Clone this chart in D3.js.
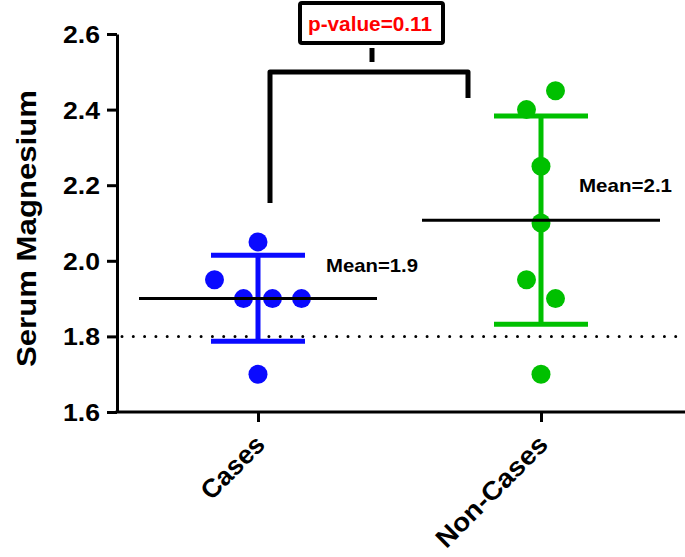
<!DOCTYPE html>
<html><head><meta charset="utf-8">
<script src="https://cdn.jsdelivr.net/npm/d3@7"></script>
<style>body{margin:0;background:#fff}svg{display:block}text{font-family:"Liberation Sans",Arial,sans-serif;font-weight:bold}</style>
</head><body><svg id="c" width="685" height="557"></svg>
<script>
const categories = ["Cases", "Non-Cases"];
const colors = ["#0a0aff", "#00c000"];
const casesValues = [2.05, 1.95, 1.9, 1.9, 1.9, 1.7];
const casesJitter = [0, -1.5, -0.5, 0.5, 1.5, 0];
const nonCasesValues = [2.45, 2.4, 2.25, 2.1, 1.95, 1.9, 1.7];
const nonCasesJitter = [0.5, -0.5, 0, 0, -0.5, 0.5, 0];
const means = [1.9, 2.107];
const errLow = [1.787, 1.832];
const errHigh = [2.015, 2.383];
const meanLabels = ["Mean=1.9", "Mean=2.1"];
const yTicks = [1.6, 1.8, 2.0, 2.2, 2.4, 2.6];
const refLine = 1.8;
const pLabel = "p-value=0.11";

const svg = d3.select("#c");
const y = d3.scaleLinear().domain([1.6, 2.6]).range([412, 34]);
const x = d3.scalePoint().domain(categories).range([258, 541]);
const jit = 29; // px per jitter unit

// y axis
const yAxis = svg.append("g").attr("transform", "translate(117,0)")
  .call(d3.axisLeft(y).tickValues(yTicks).tickFormat(d3.format(".1f")).tickSize(10).tickSizeOuter(0));
yAxis.select(".domain").attr("stroke", "#000").attr("stroke-width", 3);
yAxis.selectAll(".tick line").attr("stroke-width", 3);
yAxis.selectAll(".tick text").attr("font-size", 24).attr("x", -17).attr("dy", "0.35em")
  .attr("font-family", "Liberation Sans, Arial").attr("font-weight", "bold").attr("fill", "#000")
  .attr("textLength", 37).attr("lengthAdjust", "spacingAndGlyphs");

// x axis
const xAxis = svg.append("g").attr("transform", "translate(0,412)")
  .call(d3.axisBottom(x).tickSize(10).tickSizeOuter(0));
xAxis.select(".domain").attr("d", "M115.5,0H685").attr("stroke-width", 3);
xAxis.selectAll(".tick line").attr("stroke-width", 3);
xAxis.selectAll(".tick text").attr("font-size", 26).attr("font-family", "Liberation Sans, Arial").attr("font-weight", "bold").attr("fill", "#000")
  .attr("text-anchor", "end").attr("dy", 0).attr("y", 0)
  .attr("textLength", d => d === "Cases" ? 78 : 146).attr("lengthAdjust", "spacingAndGlyphs")
  .attr("transform", "translate(8,34) rotate(-45)");

// y label
svg.append("text").attr("transform", "translate(36,228.5) rotate(-90)").attr("text-anchor", "middle")
  .attr("font-size", 28).attr("textLength", 277).attr("lengthAdjust", "spacingAndGlyphs").text("Serum Magnesium");

// reference dotted line
svg.append("line").attr("x1", 122).attr("x2", 685).attr("y1", y(refLine)).attr("y2", y(refLine))
  .attr("stroke", "#000").attr("stroke-width", 3).attr("stroke-dasharray", "0 11.3").attr("stroke-linecap", "round");

const groups = [
  {vals: casesValues, jit: casesJitter},
  {vals: nonCasesValues, jit: nonCasesJitter}
];

groups.forEach((g, i) => {
  const cx = x(categories[i]);
  const c = colors[i];
  // error bars
  svg.append("line").attr("x1", cx).attr("x2", cx).attr("y1", y(errHigh[i])).attr("y2", y(errLow[i]))
    .attr("stroke", c).attr("stroke-width", 5);
  [errHigh[i], errLow[i]].forEach(v => {
    svg.append("line").attr("x1", cx - 47).attr("x2", cx + 47).attr("y1", y(v)).attr("y2", y(v))
      .attr("stroke", c).attr("stroke-width", 5);
  });
  // points
  svg.selectAll(null).data(g.vals).enter().append("circle")
    .attr("cx", (d, k) => cx + g.jit[k] * jit).attr("cy", d => y(d)).attr("r", 9.5).attr("fill", c);
  // mean line
  svg.append("line").attr("x1", cx - 119).attr("x2", cx + 119).attr("y1", y(means[i])).attr("y2", y(means[i]))
    .attr("stroke", "#000").attr("stroke-width", 3);
});

// mean labels
svg.append("text").attr("x", 326).attr("y", 272).attr("font-size", 19)
  .attr("textLength", 92).attr("lengthAdjust", "spacingAndGlyphs").text(meanLabels[0]);
svg.append("text").attr("x", 579).attr("y", 192).attr("font-size", 19)
  .attr("textLength", 93).attr("lengthAdjust", "spacingAndGlyphs").text(meanLabels[1]);

// bracket
svg.append("path").attr("d", "M270,203V72H468V98").attr("fill", "none").attr("stroke", "#000")
  .attr("stroke-width", 5).attr("stroke-linejoin", "round");
svg.append("line").attr("x1", 372).attr("x2", 372).attr("y1", 48).attr("y2", 62).attr("stroke", "#000").attr("stroke-width", 5);
svg.append("rect").attr("x", 300).attr("y", 3).attr("width", 143).attr("height", 40).attr("rx", 2)
  .attr("fill", "#fff").attr("stroke", "#000").attr("stroke-width", 4);
svg.append("text").attr("x", 308).attr("y", 31).attr("fill", "#ff0000")
  .attr("font-size", 20).attr("textLength", 124).attr("lengthAdjust", "spacingAndGlyphs").text(pLabel);
</script></body></html>
